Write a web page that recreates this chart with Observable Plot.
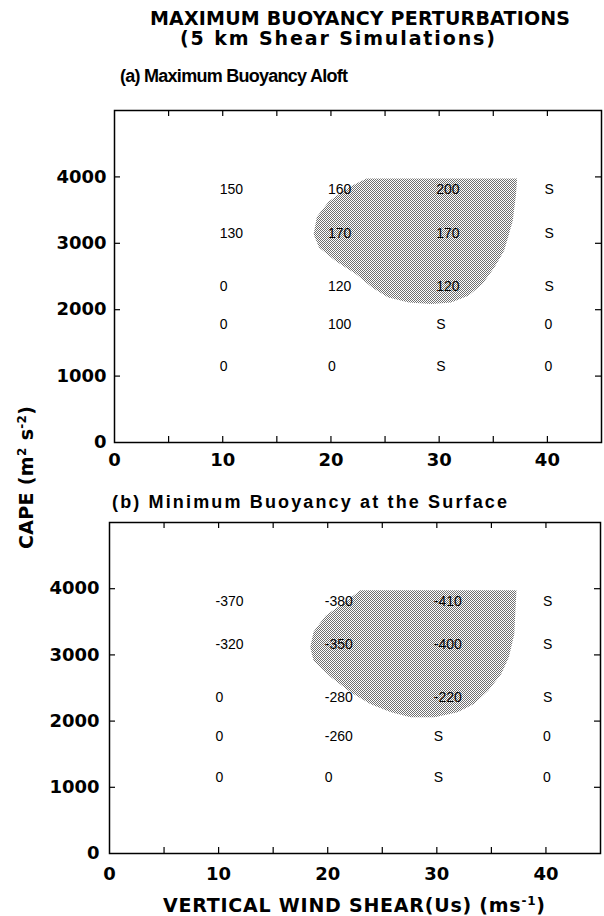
<!DOCTYPE html>
<html>
<head>
<meta charset="utf-8">
<script src="https://cdn.jsdelivr.net/npm/d3@7"></script>
<script src="https://cdn.jsdelivr.net/npm/@observablehq/plot@0.6"></script>
<style>
  body { margin: 0; background: #fff; }
  #page { position: relative; width: 604px; height: 916px; overflow: hidden; background: #fff; }
  #page > div.plot { position: absolute; left: 0; }
  #labels { position: absolute; left: 0; top: 0; pointer-events: none; }
</style>
</head>
<body>
<div id="page">
  <div class="plot" id="pa" style="top:100px"></div>
  <div class="plot" id="pb" style="top:512px"></div>
  <svg id="labels" width="604" height="916" font-family="DejaVu Sans" font-weight="bold" fill="#000">
    <text x="150" y="25" font-size="19" textLength="420" lengthAdjust="spacing">MAXIMUM BUOYANCY PERTURBATIONS</text>
    <text x="180" y="45" font-size="19" textLength="315" lengthAdjust="spacing">(5 km Shear Simulations)</text>
    <text x="120" y="82" font-size="18" font-family="Liberation Sans" textLength="228" lengthAdjust="spacing">(a) Maximum Buoyancy Aloft</text>
    <text x="112" y="508" font-size="18" font-family="Liberation Sans" textLength="395" lengthAdjust="spacing">(b) Minimum Buoyancy at the Surface</text>
    <text x="163" y="912" font-size="19" textLength="382" lengthAdjust="spacing">VERTICAL WIND SHEAR(Us)  (ms<tspan baseline-shift="super" font-size="12">-1</tspan>)</text>
    <text transform="translate(33,549) rotate(-90)" x="0" y="0" font-size="19" textLength="143" lengthAdjust="spacing">CAPE (m<tspan baseline-shift="super" font-size="12">2</tspan> s<tspan baseline-shift="super" font-size="12">-2</tspan>)</text>
  </svg>
</div>
<script>
// ---- data ----
const shearTicks = [0, 10, 20, 30, 40];
const capeTicks = [0, 1000, 2000, 3000, 4000];
const minorShear = [5, 10, 15, 20, 25, 30, 35, 40];
const minorCape = [1000, 2000, 3000, 4000];

const shearCols = [10, 20, 30, 40];
const capeRows = [3810, 3150, 2350, 1770, 1150];

// (a) maximum buoyancy aloft
const valuesA = [
  ["150", "160", "200", "S"],
  ["130", "170", "170", "S"],
  ["0", "120", "120", "S"],
  ["0", "100", "S", "0"],
  ["0", "0", "S", "0"]
];
// (b) minimum buoyancy at the surface
const valuesB = [
  ["-370", "-380", "-410", "S"],
  ["-320", "-350", "-400", "S"],
  ["0", "-280", "-220", "S"],
  ["0", "-260", "S", "0"],
  ["0", "0", "S", "0"]
];

// shaded regime boundary [shear, CAPE]
const regionA = [
  [23.3, 3975], [30.0, 3975], [37.2, 3975], [37.1, 3740], [36.8, 3338], [36.0, 2887],
  [35.1, 2637], [34.0, 2386], [32.7, 2211], [31.1, 2110], [29.3, 2085],
  [27.2, 2110], [25.3, 2185], [23.8, 2335], [22.3, 2536], [20.4, 2737],
  [18.9, 2937], [18.4, 3138], [18.7, 3400], [19.8, 3630], [21.6, 3840]
];
const regionB = [
  [23.0, 3975], [30.0, 3975], [37.3, 3975], [37.2, 3668], [37.1, 3316], [36.6, 2963],
  [35.9, 2712], [34.7, 2460], [33.4, 2260], [31.9, 2133], [29.8, 2058],
  [27.6, 2058], [25.8, 2133], [23.9, 2260], [22.1, 2435], [20.3, 2661],
  [18.7, 2913], [18.4, 3114], [18.7, 3350], [19.8, 3590], [21.5, 3790]
];

function cellsFrom(values) {
  return capeRows.flatMap((c, i) => shearCols.map((s, j) => ({shear: s, cape: c, label: values[i][j]})));
}

function panel(values, region, o) {
  const W = 604, H = 380, mt = 10;
  const innerW = W - o.ml - o.mr, innerH = H - mt - o.mb;
  const tickFont = {fontSize: 18, fontFamily: "DejaVu Sans", fontWeight: "bold"};
  return Plot.plot({
    width: W, height: H,
    marginLeft: o.ml, marginRight: o.mr, marginTop: mt, marginBottom: o.mb,
    x: {domain: [0, 45]},
    y: {domain: [0, 5000]},
    style: {background: "transparent", overflow: "visible", color: "#000"},
    marks: [
      () => {
        const g = document.createElementNS("http://www.w3.org/2000/svg", "g");
        g.innerHTML = `<defs><pattern id="${o.id}" x="0.5" y="0.5" width="2" height="2" patternUnits="userSpaceOnUse">
          <rect width="2" height="2" fill="#fff"/>
          <rect width="1" height="1" fill="#707070"/>
          <rect x="1" y="1" width="1" height="1" fill="#707070"/></pattern></defs>`;
        return g;
      },
      Plot.line(region.map(([s, c]) => ({shear: s, cape: c})), {
        x: "shear", y: "cape", curve: "linear-closed",
        fill: `url(#${o.id})`, stroke: "none"
      }),
      Plot.text(cellsFrom(values), {
        x: "shear", y: "cape", text: "label", textAnchor: "start", dx: -3,
        fontSize: 14, fontFamily: "Liberation Sans", fill: "#000"
      }),
      Plot.tickX(minorShear, {x: d => d, insetTop: innerH - 6, strokeWidth: 1.2}),
      Plot.tickX(minorShear, {x: d => d, insetBottom: innerH - 6, strokeWidth: 1.2}),
      Plot.tickY(minorCape, {y: d => d, insetRight: innerW - 6, strokeWidth: 1.2}),
      Plot.tickY(minorCape, {y: d => d, insetLeft: innerW - 6, strokeWidth: 1.2}),
      Plot.axisX(shearTicks, {tickSize: 0, tickPadding: o.xpad, label: null, tickFormat: d3.format("d"), ...tickFont}),
      Plot.axisY(capeTicks, {tickSize: 0, tickPadding: o.ypad, label: null, tickFormat: d3.format("d"), ...tickFont}),
      Plot.frame({stroke: "#000", strokeWidth: 1.5})
    ]
  });
}

document.getElementById("pa").append(panel(valuesA, regionA, {id: "stippleA", ml: 114, mr: 3, mb: 38, xpad: 11, ypad: 8}));
document.getElementById("pb").append(panel(valuesB, regionB, {id: "stippleB", ml: 109, mr: 4, mb: 39, xpad: 14, ypad: 10}));
</script>
</body>
</html>
